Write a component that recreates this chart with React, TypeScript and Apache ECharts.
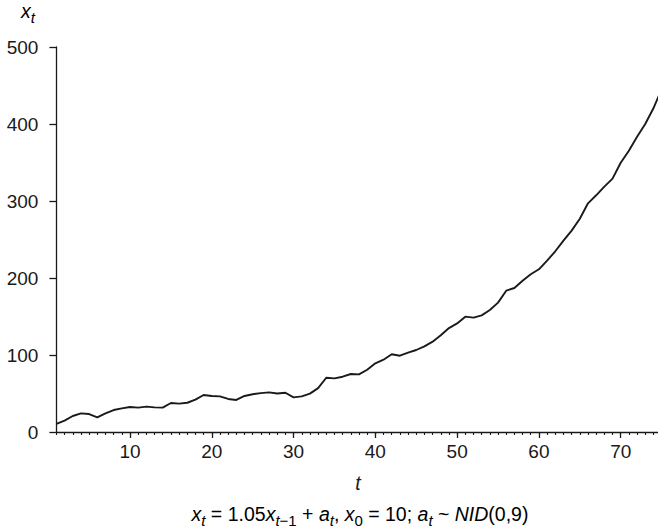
import React, { useEffect, useRef } from "react";
import * as echarts from "echarts";

// Simulated explosive AR(1) path, x_t for t = 1..75
const seriesValues: number[] = [
  10.4, 14.7, 20.8, 24.2, 23.3, 19.0, 24.2, 28.5, 30.7, 32.5,
  31.6, 32.9, 32.0, 31.6, 37.7, 36.8, 38.0, 42.0, 48.0, 46.8,
  46.3, 42.9, 41.6, 46.8, 49.0, 50.5, 51.5, 50.0, 51.0, 45.0,
  46.3, 49.8, 57.0, 70.5, 69.7, 71.8, 75.3, 74.9, 80.9, 89.2,
  93.9, 100.9, 99.1, 103.0, 106.5, 111.3, 117.3, 125.6, 135.0, 141.0,
  149.8, 148.5, 151.5, 158.4, 168.0, 183.5, 187.0, 196.5, 204.8, 211.3,
  222.5, 234.7, 248.5, 261.5, 277.0, 297.0, 307.4, 318.6, 329.0, 349.7,
  365.3, 383.5, 400.0, 420.4, 445.0,
];

const xMajorTicks: number[] = [10, 20, 30, 40, 50, 60, 70];
const yTicks: number[] = [0, 100, 200, 300, 400, 500];

const T_MIN = 1;
const T_MAX = 75;

const FONT = "'Liberation Sans', Arial, Helvetica, sans-serif";
const INK = "#1a1a1a";

export default function App() {
  const ref = useRef<HTMLDivElement>(null);

  useEffect(() => {
    if (!ref.current) return;
    const chart = echarts.init(ref.current, null, { renderer: "svg" });

    const points = seriesValues.map((v, i) => [i + 1, v]);
    const minorTicks = seriesValues.map((_, i) => i + 1);

    const mainSize = 19.5;
    const subSize = 15;
    const richStyles = {
      n: { fontFamily: FONT, fontSize: mainSize, color: INK },
      i: { fontFamily: FONT, fontSize: mainSize, fontStyle: "italic", color: INK },
      s: {
        fontFamily: FONT,
        fontSize: subSize,
        fontStyle: "italic",
        color: INK,
        padding: [12, 0, 0, 0],
      },
      sn: {
        fontFamily: FONT,
        fontSize: subSize,
        color: INK,
        padding: [12, 0, 0, 0],
      },
    };

    chart.setOption({
      animation: false,
      backgroundColor: "#ffffff",
      grid: {
        left: 56.4,
        top: 47,
        width: 605.2,
        height: 385,
        outerBoundsMode: "none",
        containLabel: false,
      },
      xAxis: [
        {
          type: "value",
          min: T_MIN,
          max: T_MAX,
          position: "bottom",
          axisLine: { show: true, lineStyle: { color: INK, width: 1.3 } },
          axisTick: {
            show: true,
            customValues: xMajorTicks,
            length: 6,
            lineStyle: { color: INK, width: 1.3 },
          },
          axisLabel: {
            show: true,
            customValues: xMajorTicks,
            margin: 10,
            fontFamily: FONT,
            fontSize: 19,
            color: INK,
          },
          splitLine: { show: false },
        },
        {
          type: "value",
          min: T_MIN,
          max: T_MAX,
          position: "bottom",
          axisLine: { show: false },
          axisTick: {
            show: true,
            customValues: minorTicks,
            length: 3,
            lineStyle: { color: INK, width: 1.1 },
          },
          axisLabel: { show: false },
          splitLine: { show: false },
        },
      ],
      yAxis: {
        type: "value",
        min: 0,
        max: 500,
        interval: 100,
        axisLine: { show: true, lineStyle: { color: INK, width: 1.3 } },
        axisTick: {
          show: true,
          customValues: yTicks,
          length: 7,
          lineStyle: { color: INK, width: 1.3 },
        },
        axisLabel: {
          show: true,
          customValues: yTicks,
          margin: 18,
          fontFamily: FONT,
          fontSize: 19,
          color: INK,
        },
        splitLine: { show: false },
      },
      series: [
        {
          type: "line",
          xAxisIndex: 0,
          data: points,
          showSymbol: false,
          symbol: "none",
          lineStyle: { color: INK, width: 1.9 },
          clip: false,
        },
      ],
      graphic: [
        {
          type: "text",
          left: 21,
          top: 1,
          style: {
            text: "{i|x}{s|t}",
            rich: richStyles,
          },
        },
        {
          type: "text",
          x: 358,
          y: 483,
          style: {
            text: "t",
            fontFamily: FONT,
            fontSize: mainSize,
            fontStyle: "italic",
            fill: INK,
            align: "center",
            verticalAlign: "middle",
          },
        },
        {
          type: "text",
          x: 360,
          y: 514,
          style: {
            text:
              "{i|x}{s|t}{n| = 1.05}{i|x}{s|t}{sn|−1}{n| + }{i|a}{s|t}{n|, }{i|x}{sn|0}{n| = 10; }{i|a}{s|t}{n| ~ }{i|NID}{n|(0,9)}",
            rich: richStyles,
            align: "center",
            verticalAlign: "middle",
          },
        },
      ],
    });

    return () => {
      chart.dispose();
    };
  }, []);

  return (
    <div
      ref={ref}
      style={{ position: "fixed", left: 0, top: 0, width: 658, height: 532 }}
    />
  );
}
